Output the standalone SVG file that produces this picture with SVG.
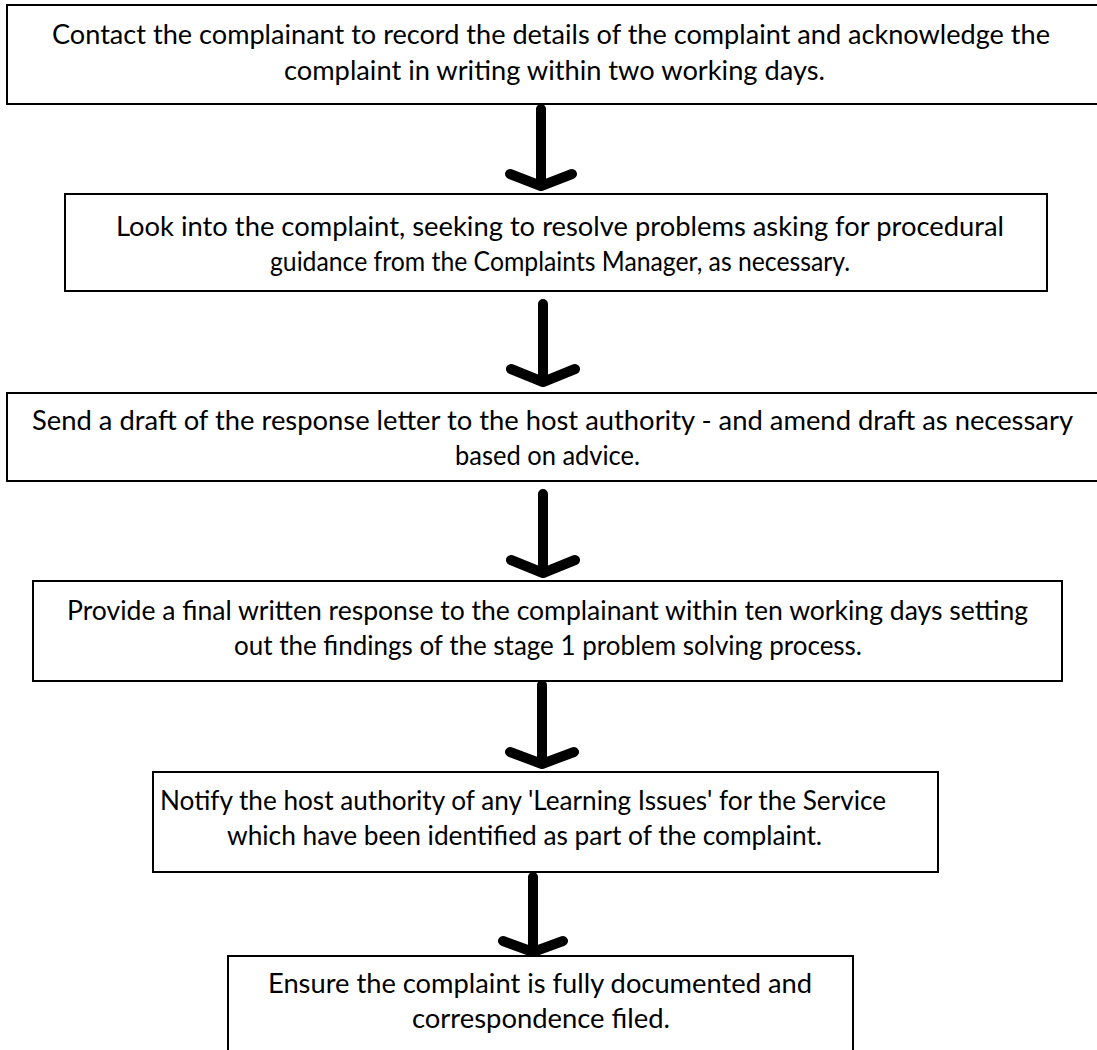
<svg xmlns="http://www.w3.org/2000/svg" width="1097" height="1050" viewBox="0 0 1097 1050">
<style>
.box{fill:#fff;stroke:#000;stroke-width:2}
.t{font-family:Lato,"Open Sans","Liberation Sans",sans-serif;font-size:26px;fill:#000}
.arr{fill:none;stroke:#000;stroke-width:10;stroke-linecap:round;stroke-linejoin:round}
</style>
<rect width="1097" height="1050" fill="#fff"/>
<g id="connectors">
<path class="arr" d="M541 109 V186 M510 174 L541 186 L572 174"/>
<path class="arr" d="M543 304 V382 M511 369 L543 382 L575 369"/>
<path class="arr" d="M543 494 V573 M511 560 L543 573 L575 560"/>
<path class="arr" d="M542 685 V764 M510 752 L542 764 L574 752"/>
<path class="arr" d="M533 877 V952 M503 941 L533 952 L563 941"/>
</g>
<g id="node1">
<rect class="box" x="7" y="5" width="1100" height="99"/>
<text class="t" x="52" y="44" textLength="998" lengthAdjust="spacingAndGlyphs">Contact the complainant to record the details of the complaint and acknowledge the</text>
<text class="t" x="284" y="80" textLength="541" lengthAdjust="spacingAndGlyphs">complaint in writing within two working days.</text>
</g>
<g id="node2">
<rect class="box" x="65" y="194" width="982" height="97"/>
<text class="t" x="116" y="236" textLength="888" lengthAdjust="spacingAndGlyphs">Look into the complaint, seeking to resolve problems asking for procedural</text>
<text class="t" x="270" y="271" textLength="580" lengthAdjust="spacingAndGlyphs">guidance from the Complaints Manager, as necessary.</text>
</g>
<g id="node3">
<rect class="box" x="7" y="393" width="1100" height="88"/>
<text class="t" x="32" y="430" textLength="1041" lengthAdjust="spacingAndGlyphs">Send a draft of the response letter to the host authority - and amend draft as necessary</text>
<text class="t" x="455" y="465" textLength="185" lengthAdjust="spacingAndGlyphs">based on advice.</text>
</g>
<g id="node4">
<rect class="box" x="33" y="581" width="1029" height="100"/>
<text class="t" x="67" y="620" textLength="961" lengthAdjust="spacingAndGlyphs">Provide a final written response to the complainant within ten working days setting</text>
<text class="t" x="234" y="655" textLength="628" lengthAdjust="spacingAndGlyphs">out the findings of the stage 1 problem solving process.</text>
</g>
<g id="node5">
<rect class="box" x="153" y="772" width="785" height="100"/>
<text class="t" x="160" y="810" textLength="726" lengthAdjust="spacingAndGlyphs">Notify the host authority of any 'Learning Issues' for the Service</text>
<text class="t" x="227" y="845" textLength="595" lengthAdjust="spacingAndGlyphs">which have been identified as part of the complaint.</text>
</g>
<g id="node6">
<rect class="box" x="228" y="956" width="625" height="110"/>
<text class="t" x="268" y="993" textLength="544" lengthAdjust="spacingAndGlyphs">Ensure the complaint is fully documented and</text>
<text class="t" x="412" y="1028" textLength="258" lengthAdjust="spacingAndGlyphs">correspondence filed.</text>
</g>
</svg>
